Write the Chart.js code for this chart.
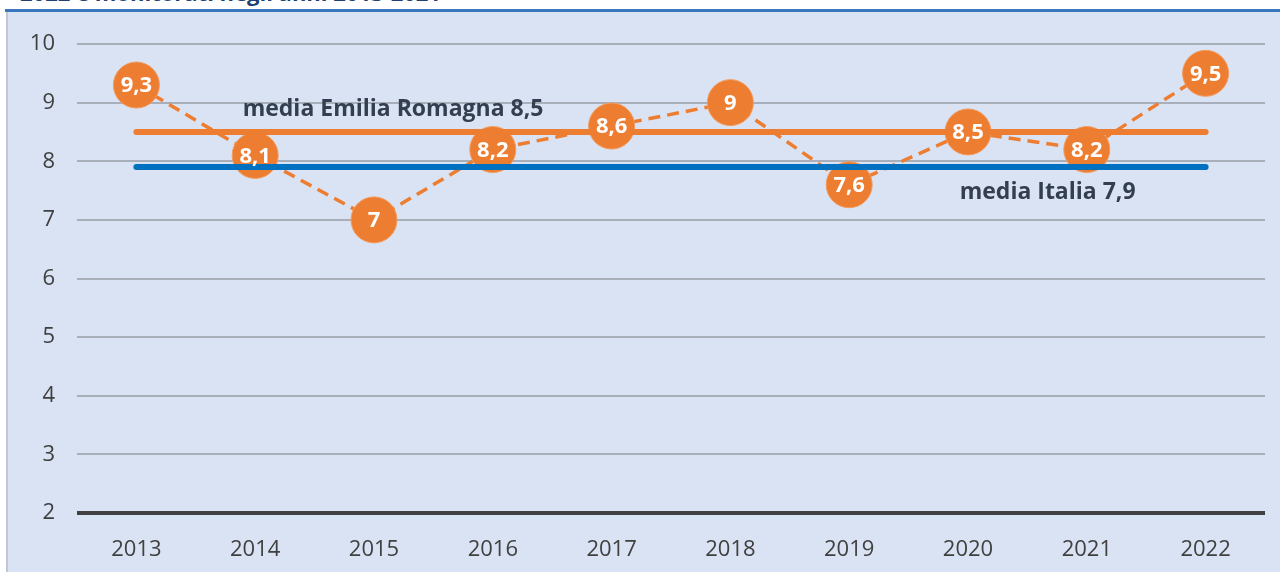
<!DOCTYPE html>
<html>
<head>
<meta charset="utf-8">
<script src="https://cdn.jsdelivr.net/npm/chart.js@4"></script>
<style>
  html, body { margin: 0; padding: 0; background: #fff; overflow: hidden; }
  body { width: 1280px; height: 572px; position: relative; font-family: "Open Sans", sans-serif; }
  #title {
    position: absolute; left: 20px; top: -23px; white-space: nowrap;
    font: bold 22px "Open Sans", sans-serif; color: #203f73;
  }
  #bar { position: absolute; left: 5px; top: 9px; width: 1275px; height: 3px; background: #3a76bd; }
  #frame {
    position: absolute; left: 6px; top: 12px; width: 1272px; height: 560px; overflow: hidden;
    background: #dae3f3; border-left: 2px solid #c3c7cf;
  }
  #frame canvas { display: block; }
</style>
</head>
<body>
<div id="title">2022 e monitorati negli anni 2013-2021</div>
<div id="bar"></div>
<div id="frame"><canvas id="chart" width="1281" height="560"></canvas></div>
<script>
// Data
const years = ["2013", "2014", "2015", "2016", "2017", "2018", "2019", "2020", "2021", "2022"];
const values = [9.3, 8.1, 7, 8.2, 8.6, 9, 7.6, 8.5, 8.2, 9.5];
const mediaER = 8.5;
const mediaIT = 7.9;
const yTicks = [2, 3, 4, 5, 6, 7, 8, 9, 10];

const orange = "#ed7d31";
const blue = "#0070c0";
const textDark = "#333f50";

// Text labels next to the mean lines (x = category index, y = value)
const meanLabels = [
  { text: "media Emilia Romagna " + String(mediaER).replace(".", ","), x: 2.16, y: mediaER + 0.38 },
  { text: "media Italia " + String(mediaIT).replace(".", ","), x: 7.67, y: mediaIT - 0.44 }
];

const labelPlugin = {
  id: "labelPlugin",
  afterDatasetsDraw(chart) {
    const ctx = chart.ctx;
    const xs = chart.scales.x, ys = chart.scales.y;
    ctx.save();
    ctx.textAlign = "center";
    ctx.textBaseline = "middle";

    // values inside the markers
    const meta = chart.getDatasetMeta(2);
    ctx.fillStyle = "#fff";
    ctx.font = "bold 22px 'Open Sans', sans-serif";
    meta.data.forEach((pt, i) => {
      ctx.fillText(String(values[i]).replace(".", ","), pt.x, pt.y + 1);
    });

    // mean labels
    ctx.fillStyle = textDark;
    ctx.font = "bold 23px 'Open Sans', sans-serif";
    meanLabels.forEach(l => {
      ctx.fillText(l.text, xs.getPixelForValue(l.x), ys.getPixelForValue(l.y));
    });
    ctx.restore();
  }
};

new Chart(document.getElementById("chart"), {
  type: "line",
  data: {
    labels: years,
    datasets: [
      {
        label: "media Emilia Romagna",
        data: years.map(() => mediaER),
        borderColor: orange,
        borderWidth: 6,
        borderCapStyle: "round",
        pointRadius: 0
      },
      {
        label: "media Italia",
        data: years.map(() => mediaIT),
        borderColor: blue,
        borderWidth: 6,
        borderCapStyle: "round",
        pointRadius: 0
      },
      {
        label: "Emilia Romagna",
        data: values,
        borderColor: orange,
        borderWidth: 3.5,
        borderDash: [12, 7],
        pointRadius: 23,
        pointBackgroundColor: orange,
        pointBorderColor: "#f29a5c",
        pointBorderWidth: 1
      }
    ]
  },
  options: {
    responsive: false,
    animation: false,
    events: [],
    layout: { padding: { left: 0, right: 16, top: 32, bottom: 0 } },
    plugins: { legend: { display: false }, tooltip: { enabled: false } },
    scales: {
      x: {
        offset: true,
        grid: { display: false, drawTicks: false },
        border: { display: false },
        ticks: {
          color: "#404040",
          font: { family: "Open Sans", size: 22 },
          padding: 24,
          maxRotation: 0
        },
        afterFit(scale) { scale.height = 59; }
      },
      y: {
        min: 2,
        max: 10,
        afterBuildTicks(scale) { scale.ticks = yTicks.map(v => ({ value: v })); },
        grid: {
          drawTicks: false,
          color: ctx => ctx.tick && ctx.tick.value === 2 ? "#404040" : "#a9afba",
          lineWidth: ctx => ctx.tick && ctx.tick.value === 2 ? 4 : 2
        },
        border: { display: false },
        ticks: {
          color: "#404040",
          font: { family: "Open Sans", size: 22 },
          padding: 22
        },
        afterFit(scale) {
          scale.width = 69;
          scale.paddingTop = 0;
          scale.paddingBottom = 0;
        }
      }
    }
  },
  plugins: [labelPlugin]
});
</script>
</body>
</html>
